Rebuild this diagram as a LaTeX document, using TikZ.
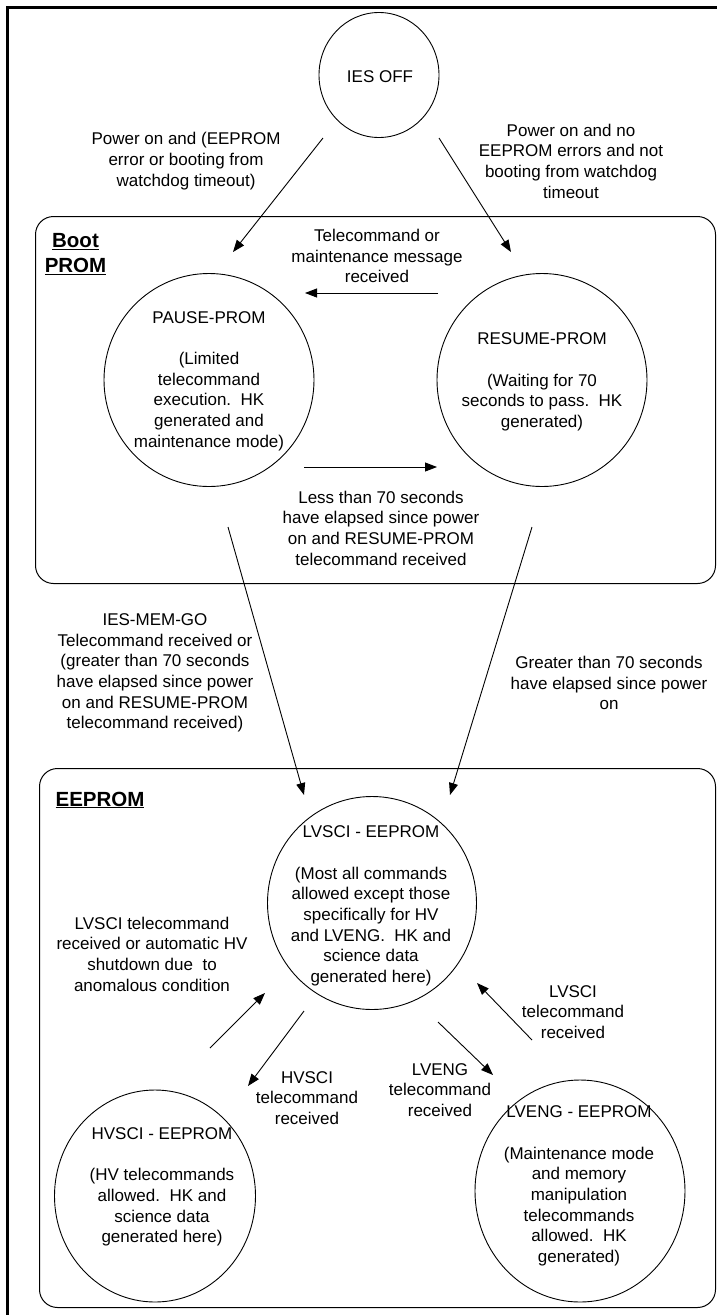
\documentclass[tikz,border=0pt]{standalone}
\usepackage{fontspec}
\setmainfont{Liberation Sans}
\usetikzlibrary{arrows.meta,shapes.geometric}
\begin{document}
\begin{tikzpicture}[x=1pt,y=-1pt,
  txt/.style={align=center,font=\fontsize{17}{20.7}\selectfont,inner sep=0pt},
  hdr/.style={align=center,font=\fontsize{20.5}{25}\selectfont\bfseries,inner sep=0pt},
  stnode/.style={draw,ellipse,line width=0.9pt,inner sep=0pt},
  grp/.style={draw,rounded corners=18pt,line width=1pt,inner sep=0pt,anchor=north west},
  arr/.style={-{Triangle[length=12pt,width=9pt]},line width=0.9pt},
  frm/.style={line width=2.6pt}]
\useasboundingbox (0,0) rectangle (716,1315);
\fill[white] (0,0) rectangle (716,1315);
\draw[frm] (7.5,1325) -- (7.5,7.5) -- (725,7.5);

% groups
\node[grp, minimum width=680pt, minimum height=367pt] (boot) at (35,216) {};
\node[grp, minimum width=676pt, minimum height=539pt] (eeprom) at (39,768) {};
\node[hdr] (bootT) at (75.5,254) {\underline{Boot}\\\underline{PROM}};
\node[hdr] (eepT) at (100,800) {\underline{EEPROM}};

% states
\node[stnode, minimum width=120pt, minimum height=125pt] (off) at (379,75) {};
\node[txt] (offT) at (380,77) {IES OFF};

\node[stnode, minimum width=210pt, minimum height=213pt] (pause) at (209,380) {};
\node[txt] (pauseT) at (209,381) {PAUSE-PROM\\[20.7pt](Limited\\telecommand\\execution.\ \ HK\\generated and\\maintenance mode)};

\node[stnode, minimum width=210pt, minimum height=213pt] (resume) at (542,380) {};
\node[txt] (resumeT) at (542,382) {RESUME-PROM\\[20.7pt](Waiting for 70\\seconds to pass.\ \ HK\\generated)};

\node[stnode, minimum width=209pt, minimum height=213pt] (lvsci) at (372,903) {};
\node[txt] (lvsciT) at (371,906) {LVSCI - EEPROM\\[20.7pt](Most all commands\\allowed except those\\specifically for HV\\and LVENG.\ \ HK and\\science data\\generated here)};

\node[stnode, minimum width=201pt, minimum height=212pt] (hvsci) at (155,1196) {};
\node[txt] (hvsciT) at (162,1187) {HVSCI - EEPROM\\[20.7pt](HV telecommands\\allowed.\ \ HK and\\science data\\generated here)};

\node[stnode, minimum width=210pt, minimum height=222pt] (lveng) at (580,1191) {};
\node[txt] (lvengT) at (579,1186) {LVENG - EEPROM\\[20.7pt](Maintenance mode\\and memory\\manipulation\\telecommands\\allowed.\ \ HK\\generated)};

% transition labels
\node[txt] (l1) at (186,161) {Power on and (EEPROM\\error or booting from\\watchdog timeout)};
\node[txt] (l2) at (571,161) {Power on and no\\EEPROM errors and not\\booting from watchdog\\timeout};
\node[txt] (l3) at (377,256) {Telecommand or\\maintenance message\\received};
\node[txt] (l4) at (381,528) {Less than 70 seconds\\have elapsed since power\\on and RESUME-PROM\\telecommand received};
\node[txt] (l5) at (155,673) {IES-MEM-GO\\Telecommand received or\\(greater than 70 seconds\\have elapsed since power\\on and RESUME-PROM\\telecommand received)};
\node[txt] (l6) at (609,683) {Greater than 70 seconds\\have elapsed since power\\on};
\node[txt] (l7) at (152,954) {LVSCI telecommand\\received or automatic HV\\shutdown due\ \ to\\anomalous condition};
\node[txt] (l8) at (573,1012) {LVSCI\\telecommand\\received};
\node[txt] (l9) at (307,1098) {HVSCI\\telecommand\\received};
\node[txt] (l10) at (440,1090) {LVENG\\telecommand\\received};

% connector end points
\coordinate (a1s) at (323,138); \coordinate (a1e) at (233,252);
\coordinate (a2s) at (439,138); \coordinate (a2e) at (511,252);
\coordinate (b1s) at (438,293); \coordinate (b1e) at (305,293);
\coordinate (b2s) at (304,467); \coordinate (b2e) at (437,467);
\coordinate (c1s) at (228,527); \coordinate (c1e) at (304,795);
\coordinate (c2s) at (532,527); \coordinate (c2e) at (450,795);
\coordinate (d1s) at (210,1048); \coordinate (d1e) at (265,993);
\coordinate (d2s) at (304,1011); \coordinate (d2e) at (248,1086);
\coordinate (d3s) at (438,1022); \coordinate (d3e) at (493,1075);
\coordinate (d4s) at (532,1040); \coordinate (d4e) at (477,983);

\draw[arr] (a1s) -- (a1e);
\draw[arr] (a2s) -- (a2e);
\draw[arr] (b1s) -- (b1e);
\draw[arr] (b2s) -- (b2e);
\draw[arr] (c1s) -- (c1e);
\draw[arr] (c2s) -- (c2e);
\draw[arr] (d1s) -- (d1e);
\draw[arr] (d2s) -- (d2e);
\draw[arr] (d3s) -- (d3e);
\draw[arr] (d4s) -- (d4e);
\end{tikzpicture}
\end{document}
